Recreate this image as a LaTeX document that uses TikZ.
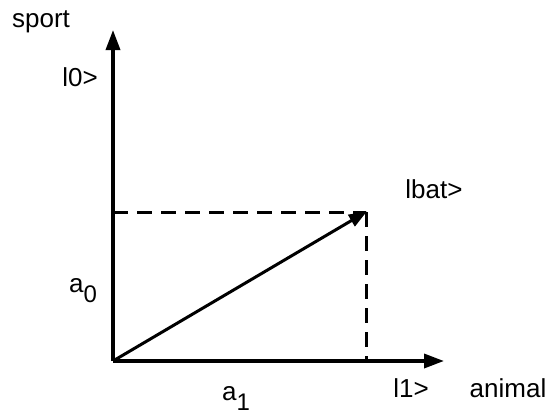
\documentclass[tikz,border=0pt]{standalone}
\usepackage{fontspec}
\setmainfont{Liberation Sans}
\usetikzlibrary{arrows.meta}
\newcommand\lowsub[1]{\raisebox{-10pt}[0pt][0pt]{\fontsize{24}{28}\selectfont #1}}
\begin{document}
\begin{tikzpicture}[x=1pt,y=-1pt,
  axis/.style={line width=3.5pt,-{Triangle[length=20pt,width=14pt]}},
  vec/.style={line width=3pt,-{Triangle[length=18pt,width=13pt]},shorten >=-1pt},
  proj/.style={line width=3pt,dash pattern=on 15pt off 9pt},
  lbl/.style={font=\fontsize{26}{30}\selectfont,inner sep=0pt,anchor=base}]
\useasboundingbox (0,0) rectangle (547,413);
\coordinate (O) at (113,361);
\coordinate (X) at (444,361);
\coordinate (Y) at (113,30);
\coordinate (B) at (366,212);
\coordinate (B0) at (113,212);
\coordinate (B1) at (366,361);
\draw[proj] (B0) -- (B);
\draw[proj] (B) -- (B1);
\draw[axis] (O) -- (X);
\draw[axis] (O) -- (Y);
\draw[vec] (O) -- (B);
\node[lbl] (sport) at (41,27) {sport};
\node[lbl] (k0) at (80,86) {l0>};
\node[lbl] (kbat) at (434,198) {lbat>};
\node[lbl] (k1) at (411,397) {l1>};
\node[lbl] (animal) at (508,397) {animal};
\node[lbl,anchor=base west] (a0) at (69,292) {a\lowsub{0}};
\node[lbl,anchor=base west] (a1) at (222,400) {a\lowsub{1}};
\end{tikzpicture}
\end{document}
